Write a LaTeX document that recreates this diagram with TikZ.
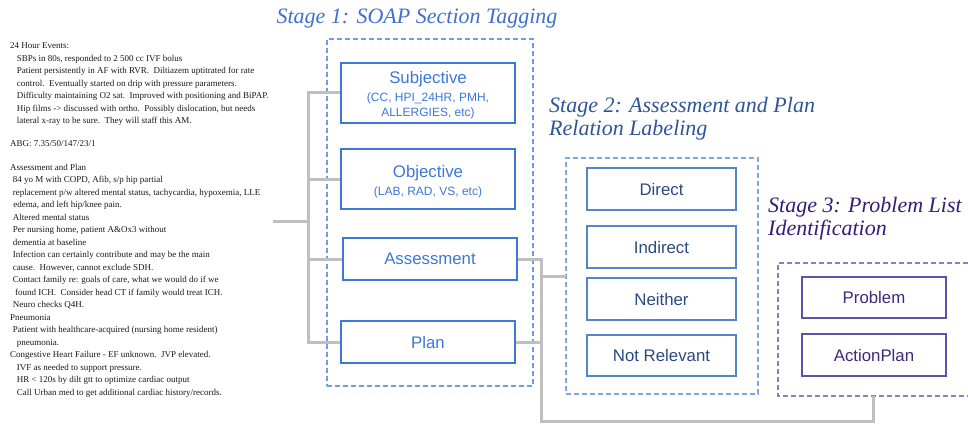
\documentclass[tikz,border=0pt]{standalone}
\usepackage{fontspec}
\setmainfont{Liberation Serif}
\newfontfamily\boxfamily{Liberation Sans}
\usepackage{tikz}

\definecolor{soapblue}{HTML}{3C78D8}
\definecolor{soaptitle}{HTML}{3F6FCF}
\definecolor{soapdash}{HTML}{6D9EEB}
\definecolor{relline}{HTML}{5585C5}
\definecolor{reltext}{HTML}{2B4A80}
\definecolor{reltitle}{HTML}{2F5597}
\definecolor{reldash}{HTML}{7EA6E0}
\definecolor{probline}{HTML}{674EA7}
\definecolor{probtext}{HTML}{3C2A7A}
\definecolor{probtitle}{HTML}{351C75}
\definecolor{probdash}{HTML}{8E7CC3}
\definecolor{linkgray}{HTML}{BFBFBF}

\newcommand{\soapsub}{\fontsize{12}{15}\selectfont}

\tikzstyle{ehrtext}   = [anchor=north west, inner sep=0pt, align=left, text=black!90,
                         font=\fontsize{9}{12.5}\selectfont]
\tikzstyle{stagetitle} = [inner sep=0pt, align=left, font=\itshape\fontsize{22}{23}\selectfont]
\tikzstyle{tagbox}    = [rectangle, draw, fill=white, line width=1.8pt, align=center,
                         font=\boxfamily\fontsize{16.8}{15}\selectfont]
\tikzstyle{soapbox}   = [tagbox, draw=soapblue, text=soapblue, minimum width=174]
\tikzstyle{relbox}    = [tagbox, draw=relline, text=reltext, minimum width=149, minimum height=42]
\tikzstyle{probbox}   = [tagbox, draw=probline, text=probtext, minimum width=144, minimum height=42]
\tikzstyle{stageframe} = [rectangle, line width=1.2pt, dash pattern=on 5pt off 3pt, outer sep=0pt]
\tikzstyle{link}      = [draw=linkgray, line width=3pt]

\begin{document}
\begin{tikzpicture}[x=1pt,y=-1pt]
    \useasboundingbox (0,0) rectangle (968,425);

    \node[ehrtext] (ehr) at (10,42.4) {24 Hour Events:\\
        \hspace*{6.7pt}SBPs in 80s, responded to 2 500 cc IVF bolus\\
        \hspace*{6.7pt}Patient persistently in AF with RVR.\ \ Diltiazem uptitrated for rate\\
        \hspace*{6.7pt}control.\ \ Eventually started on drip with pressure parameters.\\
        \hspace*{6.7pt}Difficulty maintaining O2 sat.\ \ Improved with positioning and BiPAP.\\
        \hspace*{6.7pt}Hip films -> discussed with ortho.\ \ Possibly dislocation, but needs\\
        \hspace*{6.7pt}lateral x-ray to be sure.\ \ They will staff this AM.\\[10pt]
        ABG: 7.35/50/147/23/1\\[11.5pt]
        Assessment and Plan\\
        \hspace*{2.7pt}84 yo M with COPD, Afib, s/p hip partial\\
        \hspace*{2.7pt}replacement p/w altered mental status, tachycardia, hypoxemia, LLE\\
        \hspace*{3.2pt}edema, and left hip/knee pain.\\
        \hspace*{2.7pt}Altered mental status\\
        \hspace*{2.7pt}Per nursing home, patient A\&Ox3 without\\
        \hspace*{2.7pt}dementia at baseline\\
        \hspace*{2.7pt}Infection can certainly contribute and may be the main\\
        \hspace*{2.7pt}cause.\ \ However, cannot exclude SDH.\\
        \hspace*{2.7pt}Contact family re: goals of care, what we would do if we\\
        \hspace*{5pt}found ICH.\ \ Consider head CT if family would treat ICH.\\
        \hspace*{2.7pt}Neuro checks Q4H.\\
        Pneumonia\\
        \hspace*{2.7pt}Patient with healthcare-acquired (nursing home resident)\\
        \hspace*{6.7pt}pneumonia.\\
        Congestive Heart Failure - EF unknown.\ \ JVP elevated.\\
        \hspace*{6.7pt}IVF as needed to support pressure.\\
        \hspace*{6.7pt}HR < 120s by dilt gtt to optimize cardiac output\\
        \hspace*{6.7pt}Call Urban med to get additional cardiac history/records.};

    \node[stagetitle, anchor=base, text=soaptitle] (titleone) at (417,23.5) {Stage 1: SOAP Section Tagging};
    \node[stagetitle, anchor=north west, text=reltitle] (titletwo) at (549,97.5) {Stage 2: Assessment and Plan\\Relation Labeling};
    \node[stagetitle, anchor=north west, text=probtitle] (titlethree) at (768,197.5) {Stage 3: Problem List\\Identification};

    \node[stageframe, draw=soapdash, minimum width=206, minimum height=347] (stageone) at (430,212.5) {};
    \node[stageframe, draw=reldash, minimum width=192, minimum height=236] (stagetwo) at (662,276) {};
    \node[stageframe, minimum width=190, minimum height=133] (stagethree) at (873,329.5) {};
    \draw[stageframe, draw=probdash] (stagethree.north east) -- (stagethree.north west)
        -- (stagethree.south west) -- (stagethree.south east);

    \node[soapbox, minimum height=60] (subj) at (428,93) {\rule{0pt}{17.3pt}Subjective\\[3pt]\soapsub (CC, HPI\_24HR, PMH,\\\soapsub ALLERGIES, etc)};
    \node[soapbox, minimum height=60] (obj) at (428,179) {\rule{0pt}{18.3pt}Objective\\[3pt]\soapsub (LAB, RAD, VS, etc)};
    \node[soapbox, minimum height=42] (assess) at (430,259) {Assessment};
    \node[soapbox, minimum height=42] (plan) at (428,342) {Plan};

    \node[relbox] (direct) at (661.5,189) {Direct};
    \node[relbox] (indirect) at (661.5,247) {Indirect};
    \node[relbox] (neither) at (661.5,299) {Neither};
    \node[relbox, minimum height=41] (notrel) at (661.5,355.5) {Not Relevant};

    \node[probbox, minimum height=41] (problem) at (874,297.5) {Problem};
    \node[probbox] (actplan) at (874,355) {ActionPlan};

    \coordinate (ehrout) at (273,221);
    \coordinate (bus) at (308,0);
    \coordinate (join) at (541,0);
    \coordinate (bottomrun) at (0,421);

    \draw[link] (ehrout) -- (ehrout -| bus);
    \draw[link] (subj.west) -- (subj.west -| bus) -- (plan.west -| bus) -- (plan.west);
    \draw[link] (obj.west) -- (obj.west -| bus);
    \draw[link] (assess.west) -- (assess.west -| bus);
    \draw[link] (assess.east) -- (assess.east -| join) -- (plan.east -| join) -- (plan.east);
    \draw[link] (stagetwo.west -| join) -- (stagetwo.west);
    \draw[link] (plan.east -| join) -- (bottomrun -| join) -- (bottomrun -| stagethree.south) -- (stagethree.south);
\end{tikzpicture}
\end{document}
